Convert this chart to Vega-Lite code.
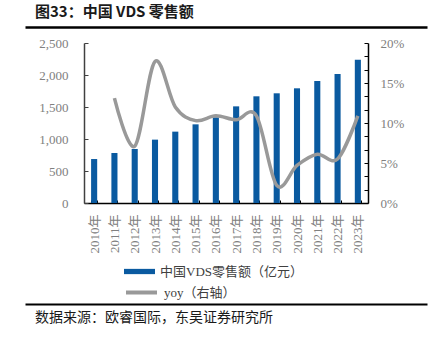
{
  "$schema": "https://vega.github.io/schema/vega-lite/v6.json",
  "padding": {"left": 25, "top": 5, "right": 5, "bottom": 5},
  "background": "white",
  "config": {
    "view": {"stroke": null},
    "axis": {"grid": false, "title": null, "labelFont": "'Liberation Serif', 'Noto Sans CJK SC'", "labelFontSize": 13, "labelColor": "#808080"},
    "legend": {"labelFont": "'Liberation Serif', 'Noto Sans CJK SC'", "labelFontSize": 13, "labelColor": "#404040", "title": null}
  },
  "vconcat": [
    {
      "width": 402,
      "height": 1,
      "title": {"text": "图33：中国 VDS 零售额", "anchor": "start", "dx": 10, "offset": 6, "font": "Noto Sans CJK SC", "fontSize": 15, "fontWeight": "bold", "color": "#1a1a1a"},
      "data": {"values": []},
      "mark": "rule",
      "encoding": {
        "x": {"field": "a", "type": "quantitative", "scale": {"domain": [0, 1]}, "axis": {"orient": "bottom", "domain": true, "domainColor": "#000000", "domainWidth": 2.5, "ticks": false, "labels": false}}
      }
    },
    {
      "width": 284,
      "height": 160,
      "data": {"values": [
        {"year": "2010年", "value": 687, "yoy": null},
        {"year": "2011年", "value": 781, "yoy": 0.131},
        {"year": "2012年", "value": 844, "yoy": 0.071},
        {"year": "2013年", "value": 990, "yoy": 0.177},
        {"year": "2014年", "value": 1115, "yoy": 0.12},
        {"year": "2015年", "value": 1229, "yoy": 0.103},
        {"year": "2016年", "value": 1338, "yoy": 0.109},
        {"year": "2017年", "value": 1510, "yoy": 0.104},
        {"year": "2018年", "value": 1667, "yoy": 0.109},
        {"year": "2019年", "value": 1714, "yoy": 0.022},
        {"year": "2020年", "value": 1792, "yoy": 0.047},
        {"year": "2021年", "value": 1906, "yoy": 0.061},
        {"year": "2022年", "value": 2016, "yoy": 0.055},
        {"year": "2023年", "value": 2240, "yoy": 0.109}
      ]},
      "encoding": {
        "x": {"field": "year", "type": "nominal", "sort": null, "scale": {"paddingInner": 0.7, "paddingOuter": 0.35},
          "axis": {"labelAngle": -90, "domainColor": "#000000", "domainWidth": 1.5, "tickColor": "#000000", "tickSize": -3, "tickBand": "extent", "labelPadding": 14}}
      },
      "layer": [
        {
          "mark": {"type": "bar"},
          "encoding": {
            "y": {"field": "value", "type": "quantitative", "scale": {"domain": [0, 2500]},
              "axis": {"orient": "left", "values": [0, 500, 1000, 1500, 2000, 2500], "format": ",.0f", "domainColor": "#404040", "domainWidth": 1.5, "tickColor": "#404040", "tickSize": -4, "labelPadding": 20}},
            "fill": {"datum": "中国VDS零售额（亿元）", "type": "nominal", "scale": {"range": ["#0a5aa0"]},
              "legend": {"orient": "none", "legendX": 99, "legendY": 230, "symbolType": "M-1,-0.17H1V0.17H-1Z", "symbolSize": 961, "symbolStrokeWidth": 0, "labelOffset": 5}}
          }
        },
        {
          "mark": {"type": "line", "interpolate": "cardinal", "strokeWidth": 3.5},
          "encoding": {
            "y": {"field": "yoy", "type": "quantitative", "scale": {"domain": [0, 0.2]},
              "axis": {"orient": "right", "values": [0, 0.016667, 0.033333, 0.05, 0.066667, 0.083333, 0.1, 0.116667, 0.133333, 0.15, 0.166667, 0.183333, 0.2],
                "labelExpr": "abs(datum.value*20 - round(datum.value*20)) < 0.001 ? format(datum.value, '.0%') : ''",
                "domainColor": "#000000", "domainWidth": 1.5, "tickColor": "#000000", "tickSize": -4, "labelPadding": 16}},
            "stroke": {"datum": "yoy（右轴）", "type": "nominal", "scale": {"range": ["#999999"]},
              "legend": {"orient": "none", "legendX": 99, "legendY": 249, "symbolType": "stroke", "symbolSize": 961, "symbolStrokeWidth": 4, "labelOffset": 5}}
          }
        }
      ],
      "resolve": {"scale": {"y": "independent"}}
    },
    {
      "width": 402,
      "height": 85,
      "title": {"text": "数据来源：欧睿国际，东吴证券研究所", "orient": "bottom", "anchor": "start", "dx": 10, "offset": 7, "font": "Noto Sans CJK SC", "fontSize": 14, "fontWeight": "normal", "color": "#1a1a1a"},
      "data": {"values": []},
      "mark": "rule",
      "encoding": {
        "x": {"field": "a", "type": "quantitative", "scale": {"domain": [0, 1]}, "axis": {"orient": "bottom", "domain": true, "domainColor": "#000000", "domainWidth": 2, "ticks": false, "labels": false}}
      }
    }
  ],
  "spacing": 16,
  "bounds": "flush",
  "center": true,
  "resolve": {"scale": {"x": "independent", "y": "independent"}}
}
